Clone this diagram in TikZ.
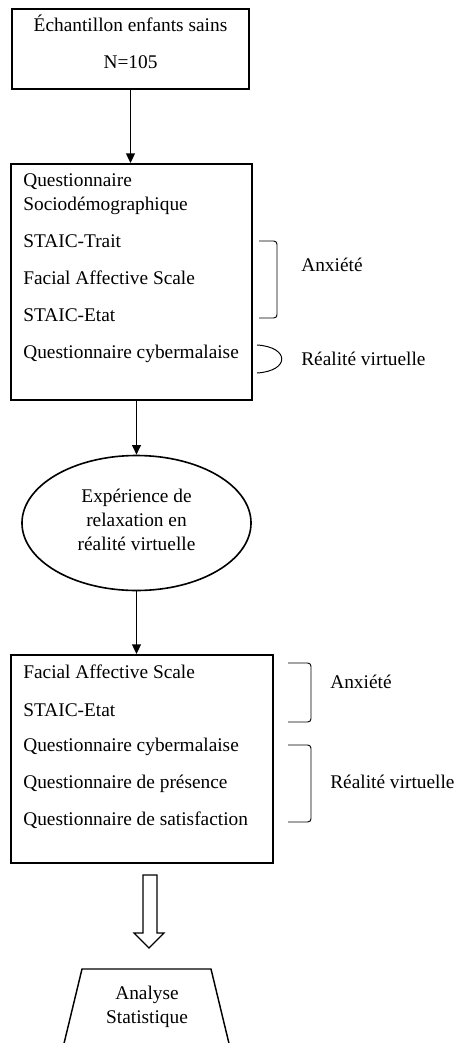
\documentclass[tikz,border=0pt]{standalone}
\usepackage{fontspec}
\setmainfont{Liberation Serif}
\usetikzlibrary{shapes.geometric,fit,arrows.meta}
\begin{document}
\begin{tikzpicture}[x=0.62pt,y=-0.62pt,
 box/.style={draw,line width=1.2pt,inner sep=0pt},
 txt/.style={anchor=mid west,inner sep=0pt,font=\fontsize{12}{14.9}\selectfont},
 ctxt/.style={anchor=center,inner sep=0pt,align=center,font=\fontsize{12}{14.9}\selectfont},
 arr/.style={line width=0.9pt,-{Triangle[length=6pt,width=5.5pt]}},
 brk/.style={line width=0.6pt,rounded corners=2pt}]
\useasboundingbox (0,0) rectangle (453,1043);
\clip (0,0) rectangle (453,1043);
% box 1
\node[box,fit={(12,9) (249,89)}] (b1) {};
\node[ctxt,anchor=mid] (t1a) at (130.5,28) {Échantillon enfants sains};
\node[ctxt,anchor=mid] (t1b) at (130.5,65) {N=105};
% box 2
\node[box,fit={(11,164) (252,400)}] (b2) {};
\node[txt] (t2a) at (23,183) {Questionnaire};
\node[txt] (t2b) at (23,207) {Sociodémographique};
\node[txt] (t2c) at (23,244) {STAIC-Trait};
\node[txt] (t2d) at (23,281) {Facial Affective Scale};
\node[txt] (t2e) at (23,318) {STAIC-Etat};
\node[txt] (t2f) at (23,355) {Questionnaire cybermalaise};
\draw[brk] (259,241) -- (277,241) -- (277,318) -- (259,318);
\node[txt] (l2a) at (301,268) {Anxiété};
\draw[line width=0.6pt] (257,345) .. controls (290,347) and (290,371) .. (257,373);
\node[txt] (l2b) at (301,362) {Réalité virtuelle};
% ellipse
\node[draw,ellipse,line width=1pt,minimum width=142pt,minimum height=83.7pt,inner sep=0pt] (ell) at (136.5,523) {};
\node[ctxt] (te) at (136.5,520) {Expérience de\\relaxation en\\réalité virtuelle};
% box 3
\node[box,fit={(11,655) (273,863)}] (b3) {};
\node[txt] (t3a) at (23,675) {Facial Affective Scale};
\node[txt] (t3b) at (23,713) {STAIC-Etat};
\node[txt] (t3c) at (23,748) {Questionnaire cybermalaise};
\node[txt] (t3d) at (23,785) {Questionnaire de présence};
\node[txt] (t3e) at (23,822) {Questionnaire de satisfaction};
\draw[brk] (288,663) -- (311,663) -- (311,722) -- (288,722);
\node[txt] (l3a) at (330,685) {Anxiété};
\draw[brk] (288,745) -- (311,745) -- (311,822) -- (288,822);
\node[txt] (l3b) at (330,785) {Réalité virtuelle};
% arrows
\draw[arr] (b1.south) -- (b1.south |- b2.north);
\draw[arr] (ell.north |- b2.south) -- (ell.north);
\draw[arr] (ell.south) -- (ell.south |- b3.north);
% block arrow
\draw[line width=0.7pt] (143,875) -- (157,875) -- (157,933) -- (164,933) -- (149,948) -- (134,933) -- (143,933) -- cycle;
% trapezoid
\draw[line width=0.9pt] (60,1060) -- (82,969) -- (211,969) -- (233,1060);
\node[ctxt] (an) at (147,1007) {Analyse\\Statistique};
\end{tikzpicture}
\end{document}
